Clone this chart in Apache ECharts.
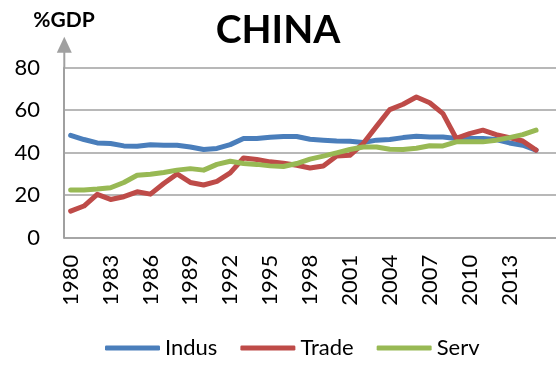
<!DOCTYPE html>
<html>
<head>
<meta charset="utf-8">
<script src="https://cdn.jsdelivr.net/npm/echarts@6/dist/echarts.min.js"></script>
<style>
html,body{margin:0;padding:0;background:#fff;}
#c{width:556px;height:367px;}
</style>
</head>
<body>
<div id="c"></div>
<script>
const years = ['1980','1981','1982','1983','1984','1985','1986','1987','1988','1989',
  '1990','1991','1992','1993','1994','1995','1996','1997','1998','1999',
  '2000','2001','2002','2003','2004','2005','2006','2007','2008','2009',
  '2010','2011','2012','2013','2014','2015'];
const indus = [48.2,46.2,44.6,44.3,43.2,43.0,43.7,43.5,43.5,42.7,
  41.5,42.0,43.8,46.7,46.7,47.3,47.6,47.6,46.3,45.9,
  45.5,45.4,44.8,45.9,46.2,47.1,47.7,47.4,47.4,46.7,
  46.7,46.7,46.2,44.6,43.5,41.2];
const trade = [12.5,14.9,20.4,18.0,19.3,21.6,20.5,25.5,30.0,26.0,
  24.8,26.5,30.5,37.5,36.8,35.7,35.0,34.1,32.8,33.7,
  38.4,38.8,44.3,52.4,60.3,62.8,66.2,63.5,58.4,46.7,
  49.0,50.6,48.5,47.1,45.5,41.2];
const serv = [22.4,22.5,22.9,23.5,26.0,29.4,29.9,30.7,31.8,32.5,
  31.8,34.5,36.0,34.9,34.5,33.8,33.5,34.9,37.0,38.4,
  39.9,41.5,42.7,42.7,41.6,41.5,42.1,43.3,43.2,45.1,
  45.1,45.1,45.9,47.1,48.5,50.6];
const yTicks = [0, 20, 40, 60, 80];

const FONT = 'Lato';
const GRAY = '#a0a0a0';
const chart = echarts.init(document.getElementById('c'));
function mk(name, data, color){
  return {name, type:'line', data, symbol:'none', smooth:false,
    lineStyle:{color, width:5, cap:'round', join:'round'}, itemStyle:{color}};
}
chart.setOption({
  animation:false,
  textStyle:{fontFamily:FONT},
  title:{text:'CHINA', left:'center', top:6,
    textStyle:{fontFamily:FONT, fontSize:39, fontWeight:'bold', color:'#000'}},
  grid:{left:64, right:0, top:67.7, bottom:129.3, containLabel:false},
  legend:{bottom:3, left:100, icon:'roundRect', itemWidth:55, itemHeight:5, itemGap:23,
    textStyle:{fontFamily:FONT, fontSize:22, color:'#000'},
    data:['Indus','Trade','Serv']},
  xAxis:{type:'category', data:years, boundaryGap:true, max:years.length,
    axisLine:{show:true, lineStyle:{color:GRAY, width:1.5}},
    axisTick:{show:false},
    axisLabel:{rotate:90, fontSize:22, color:'#000', fontFamily:FONT, margin:17,
      interval:(i)=> i % 3 === 0 && i < years.length},
    splitLine:{show:false}},
  yAxis:{type:'value', min:yTicks[0], max:yTicks[yTicks.length-1], interval:20,
    name:'%GDP', nameLocation:'end', nameGap:37,
    nameTextStyle:{fontFamily:FONT, fontSize:21, fontWeight:'bold', color:'#000', align:'center'},
    axisLine:{show:true, lineStyle:{color:GRAY, width:2}},
    axisTick:{show:false},
    axisLabel:{fontSize:22, color:'#000', fontFamily:FONT, margin:24},
    splitLine:{show:true, lineStyle:{color:GRAY, width:1.5}}},
  series:[mk('Indus', indus, '#4A7EBB'), mk('Trade', trade, '#BE4B48'), mk('Serv', serv, '#98B954')]
});
const yTop = chart.convertToPixel({yAxisIndex:0}, yTicks[yTicks.length-1]);
const x0 = 64.3;
chart.setOption({graphic:[
  {type:'line', shape:{x1:x0, y1:yTop, x2:x0, y2:yTop-17}, style:{stroke:GRAY, lineWidth:2}, silent:true},
  {type:'polygon', shape:{points:[[x0, yTop-31],[x0-7.5, yTop-15],[x0+7.5, yTop-15]]}, style:{fill:GRAY}, silent:true}
]});
</script>
</body>
</html>
